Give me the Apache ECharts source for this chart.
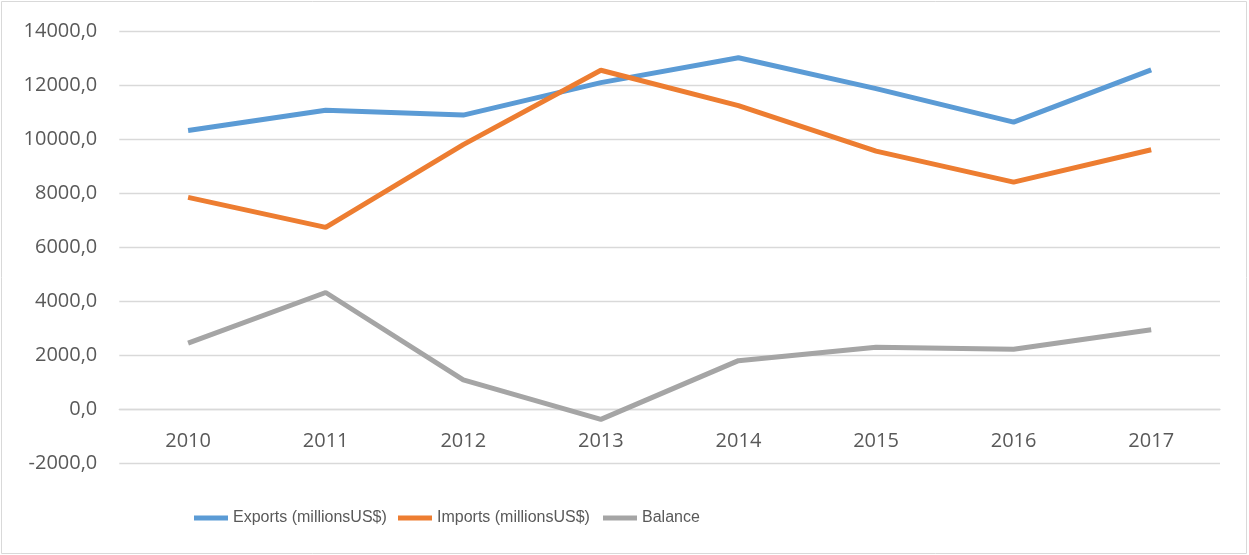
<!DOCTYPE html>
<html>
<head>
<meta charset="utf-8">
<script src="https://cdn.jsdelivr.net/npm/echarts@6/dist/echarts.min.js"></script>
<style>
html,body{margin:0;padding:0;background:#fff;}
#chart{width:1249px;height:555px;}
</style>
</head>
<body>
<div id="chart"></div>
<script>
const years = ['2010','2011','2012','2013','2014','2015','2016','2017'];
const exportsData = [10320, 11070, 10890, 12090, 13010, 11870, 10630, 12560];
const importsData = [7850, 6740, 9800, 12550, 11240, 9560, 8410, 9610];
const balanceData = [2460, 4330, 1100, -360, 1810, 2310, 2230, 2950];
const seriesNames = ['Exports (millionsUS$)', 'Imports (millionsUS$)', 'Balance'];
const colors = ['#5B9BD5', '#ED7D31', '#A5A5A5'];

const chart = echarts.init(document.getElementById('chart'));
const labelFont = '"Open Sans", sans-serif';
const legendLefts = [189, 393, 598];
const legends = seriesNames.map((n, i) => ({
  left: legendLefts[i], top: 505,
  icon: 'rect', itemWidth: 34, itemHeight: 5, itemGap: 34,
  textStyle: {fontFamily: '"Liberation Sans", sans-serif', fontSize: 16, color: '#595959'},
  data: [n]
}));
chart.setOption({
  animation: false,
  color: colors,
  graphic: [{
    type: 'rect',
    shape: {x: 1.5, y: 1.5, width: 1245, height: 552},
    style: {fill: 'none', stroke: '#d9d9d9', lineWidth: 1},
    silent: true
  }],
  grid: {left: 119.3, right: 29, top: 31, bottom: 91.3, containLabel: false},
  legend: legends,
  xAxis: {
    type: 'category',
    data: years,
    boundaryGap: true,
    offset: -54,
    axisLine: {onZero: false, lineStyle: {color: '#d9d9d9', width: 1.3}},
    axisTick: {show: false},
    axisLabel: {margin: 22, fontFamily: labelFont, fontSize: 20, color: '#595959'}
  },
  yAxis: {
    type: 'value',
    min: -2000, max: 14000, interval: 2000,
    axisLine: {show: false},
    axisTick: {show: false},
    splitLine: {lineStyle: {color: '#d9d9d9', width: 1.3}},
    axisLabel: {
      margin: 22, fontFamily: labelFont, fontSize: 20, color: '#595959',
      formatter: v => v.toFixed(1).replace('.', ',')
    }
  },
  series: [
    {name: seriesNames[0], type: 'line', data: exportsData, symbol: 'none', lineStyle: {width: 5}},
    {name: seriesNames[1], type: 'line', data: importsData, symbol: 'none', lineStyle: {width: 5}},
    {name: seriesNames[2], type: 'line', data: balanceData, symbol: 'none', lineStyle: {width: 5}}
  ]
});
</script>
</body>
</html>
